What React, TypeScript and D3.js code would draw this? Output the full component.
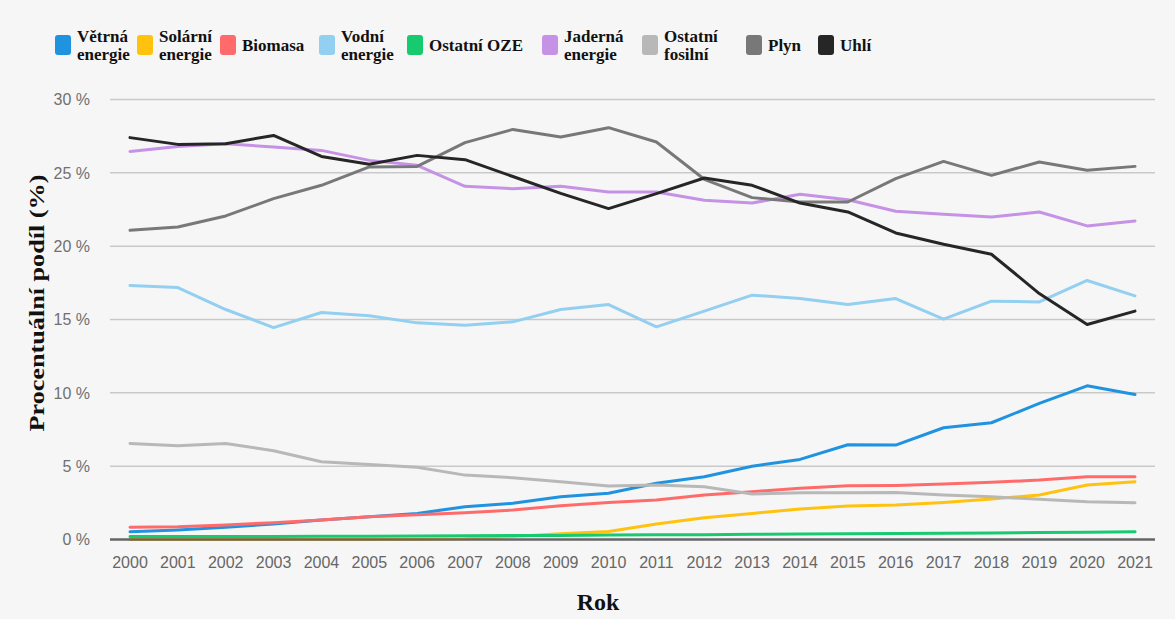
import React from "react";
import * as d3 from "d3";

const years = ["2000","2001","2002","2003","2004","2005","2006","2007","2008","2009","2010","2011","2012","2013","2014","2015","2016","2017","2018","2019","2020","2021"];
const yTicks = [0, 5, 10, 15, 20, 25, 30];

const vetrna = [0.53,0.65,0.83,1.06,1.33,1.55,1.78,2.23,2.47,2.92,3.15,3.83,4.28,5.0,5.46,6.46,6.44,7.62,7.96,9.28,10.48,9.89];
const solarni = [0,0,0,0,0,0,0.01,0.05,0.2,0.4,0.55,1.06,1.49,1.78,2.08,2.28,2.35,2.53,2.76,3.03,3.71,3.94];
const biomasa = [0.83,0.87,0.99,1.15,1.33,1.55,1.69,1.83,2.01,2.3,2.53,2.69,3.03,3.26,3.49,3.67,3.69,3.78,3.9,4.05,4.28,4.28];
const vodni = [17.32,17.18,15.68,14.45,15.48,15.25,14.77,14.61,14.84,15.68,16.02,14.5,15.57,16.66,16.43,16.02,16.43,15.02,16.25,16.2,17.66,16.61];
const ostatniOze = [0.2,0.2,0.2,0.21,0.22,0.23,0.24,0.25,0.27,0.28,0.3,0.32,0.33,0.35,0.37,0.39,0.41,0.43,0.45,0.48,0.5,0.52];
const jaderna = [26.46,26.8,26.99,26.76,26.53,25.85,25.51,24.08,23.92,24.08,23.69,23.69,23.13,22.94,23.54,23.17,22.38,22.17,21.99,22.33,21.38,21.72];
const ostatniFosilni = [6.55,6.39,6.55,6.05,5.3,5.12,4.92,4.39,4.21,3.94,3.64,3.71,3.6,3.1,3.19,3.19,3.21,3.03,2.92,2.74,2.58,2.51];
const plyn = [21.08,21.31,22.06,23.24,24.15,25.4,25.44,27.06,27.96,27.44,28.08,27.1,24.56,23.31,23.01,23.01,24.6,25.78,24.83,25.74,25.17,25.44];
const uhli = [27.4,26.94,26.99,27.55,26.12,25.58,26.19,25.9,24.75,23.6,22.56,23.58,24.65,24.15,22.94,22.33,20.9,20.13,19.45,16.77,14.66,15.57];

const seriesNames = [["Větrná", "energie"], ["Solární", "energie"], ["Biomasa"], ["Vodní", "energie"], ["Ostatní OZE"], ["Jaderná", "energie"], ["Ostatní", "fosilní"], ["Plyn"], ["Uhlí"]];
const seriesValues = [vetrna, solarni, biomasa, vodni, ostatniOze, jaderna, ostatniFosilni, plyn, uhli];
const seriesColors = ["#1f93e0", "#ffc20e", "#ff6b6b", "#93cff0", "#17c96f", "#c592e6", "#b8b8b8", "#787878", "#262626"];
const legendX = [55, 137, 220, 319, 407, 542, 642, 746, 818];

export default function App() {
  const W = 1175, H = 619;
  const x = d3.scalePoint<string>().domain(years).range([130, 1135]);
  const y = d3.scaleLinear().domain([0, 30]).range([539.5, 99.5]);
  const line = d3.line<number>().x((_, i) => x(years[i]) as number).y((v) => y(v));
  const gx0 = 110, gx1 = 1155;

  return (
    <svg width={W} height={H} style={{ position: "absolute", left: 0, top: 0 }}>
      <rect x={0} y={0} width={W} height={H} fill="#f6f6f6" />
      {/* legend */}
      {seriesNames.map((lines, i) => {
        const sx = legendX[i];
        return (
          <g key={"lg" + i}>
            <rect x={sx} y={35} width={16} height={20} rx={3} fill={seriesColors[i]} />
            <text fontFamily="'Liberation Serif', 'Times New Roman', serif" fontWeight="bold" fontSize={17} fill="#111">
              {lines.length === 1 ? (
                <tspan x={sx + 22} y={51}>{lines[0]}</tspan>
              ) : (
                <>
                  <tspan x={sx + 22} y={42}>{lines[0]}</tspan>
                  <tspan x={sx + 22} y={60}>{lines[1]}</tspan>
                </>
              )}
            </text>
          </g>
        );
      })}
      {/* grid */}
      {yTicks.filter((t) => t > 0).map((t) => (
        <line key={"g" + t} x1={gx0} x2={gx1} y1={y(t)} y2={y(t)} stroke="#c9c9c9" strokeWidth={1.5} />
      ))}
      {yTicks.map((t) => (
        <text key={"yt" + t} x={90} y={y(t)} dy="0.36em" textAnchor="end" fontFamily="'Liberation Sans', Arial, sans-serif" fontSize={16} fill="#707070">
          {t + " %"}
        </text>
      ))}
      {years.map((yr) => (
        <text key={"xt" + yr} x={x(yr)} y={568} textAnchor="middle" fontFamily="'Liberation Sans', Arial, sans-serif" fontSize={16} fill="#666">
          {yr}
        </text>
      ))}
      {/* series */}
      {seriesValues.map((vals, i) => (
        <path key={"s" + i} d={line(vals) || ""} fill="none" stroke={seriesColors[i]} strokeWidth={3} strokeLinejoin="round" strokeLinecap="round" />
      ))}
      <line x1={gx0} x2={gx1} y1={y(0)} y2={y(0)} stroke="#666" strokeWidth={2.5} />
      {/* axis titles */}
      <text transform={`translate(44, 303) rotate(-90)`} textAnchor="middle" fontFamily="'Liberation Serif', 'Times New Roman', serif" fontWeight="bold" fontSize={22} fill="#111" textLength={257} lengthAdjust="spacingAndGlyphs">
        Procentuální podíl (%)
      </text>
      <text x={598} y={610} textAnchor="middle" fontFamily="'Liberation Serif', 'Times New Roman', serif" fontWeight="bold" fontSize={24} fill="#111">
        Rok
      </text>
    </svg>
  );
}
